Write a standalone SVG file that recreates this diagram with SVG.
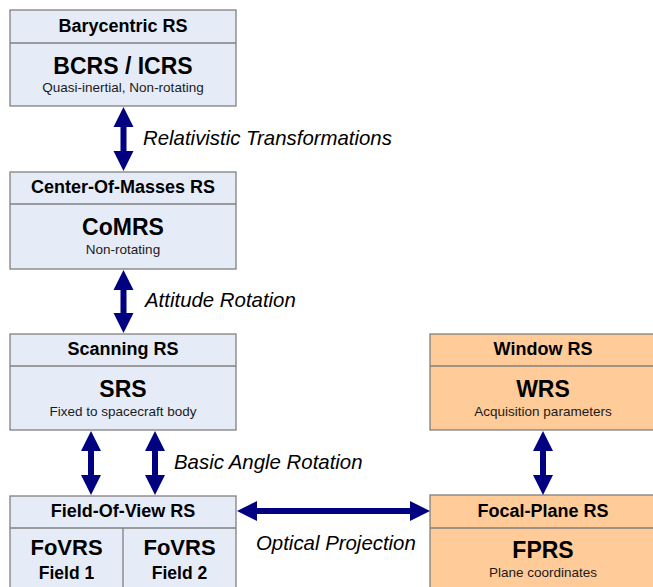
<svg xmlns="http://www.w3.org/2000/svg" width="653" height="587" viewBox="0 0 653 587">
<style>
.blue{fill:#E6ECF7;stroke:#808080;stroke-width:1.3}
.orange{fill:#FFCC99;stroke:#808080;stroke-width:1.3}
.hdr{font-family:"Liberation Sans",Arial,sans-serif;font-weight:bold;font-size:18px;fill:#000;text-anchor:middle}
.ttl{font-family:"Liberation Sans",Arial,sans-serif;font-weight:bold;font-size:23px;fill:#000;text-anchor:middle}
.sub{font-family:"Liberation Sans",Arial,sans-serif;font-size:13.5px;fill:#1a1a1a;text-anchor:middle}
.fld{font-family:"Liberation Sans",Arial,sans-serif;font-weight:bold;font-size:17.5px;fill:#000;text-anchor:middle}
.lbl{font-family:"Liberation Sans",Arial,sans-serif;font-style:italic;font-size:20.4px;fill:#000}
.arrow{fill:#000080;stroke:none}
</style>
<rect width="653" height="587" fill="#fff"/>
<g id="bcrs">
<rect class="blue" x="10" y="10" width="226" height="96"/>
<line x1="10" y1="43" x2="236" y2="43" stroke="#808080" stroke-width="1.3"/>
<text class="hdr" x="123" y="32">Barycentric RS</text>
<text class="ttl" x="123" y="74">BCRS / ICRS</text>
<text class="sub" x="123" y="92">Quasi-inertial, Non-rotating</text>
</g>
<g id="comrs">
<rect class="blue" x="10" y="172" width="226" height="97"/>
<line x1="10" y1="204" x2="236" y2="204" stroke="#808080" stroke-width="1.3"/>
<text class="hdr" x="123" y="193">Center-Of-Masses RS</text>
<text class="ttl" x="123" y="235">CoMRS</text>
<text class="sub" x="123" y="254">Non-rotating</text>
</g>
<g id="srs">
<rect class="blue" x="10" y="334" width="226" height="96"/>
<line x1="10" y1="366" x2="236" y2="366" stroke="#808080" stroke-width="1.3"/>
<text class="hdr" x="123" y="355">Scanning RS</text>
<text class="ttl" x="123" y="397">SRS</text>
<text class="sub" x="123" y="416">Fixed to spacecraft body</text>
</g>
<g id="fovrs">
<rect class="blue" x="10" y="496" width="226" height="100"/>
<line x1="10" y1="528" x2="236" y2="528" stroke="#808080" stroke-width="1.3"/>
<line x1="123" y1="528" x2="123" y2="596" stroke="#808080" stroke-width="1.3"/>
<text class="hdr" x="123" y="517">Field-Of-View RS</text>
<text class="ttl" x="66.5" y="555" style="font-size:22px">FoVRS</text>
<text class="ttl" x="179.5" y="555" style="font-size:22px">FoVRS</text>
<text class="fld" x="66.5" y="579">Field 1</text>
<text class="fld" x="179.5" y="579">Field 2</text>
</g>
<g id="wrs">
<rect class="orange" x="430" y="334" width="230" height="96"/>
<line x1="430" y1="366" x2="660" y2="366" stroke="#808080" stroke-width="1.3"/>
<text class="hdr" x="543" y="355">Window RS</text>
<text class="ttl" x="543" y="397">WRS</text>
<text class="sub" x="543" y="416">Acquisition parameters</text>
</g>
<g id="fprs">
<rect class="orange" x="430" y="495" width="230" height="100"/>
<line x1="430" y1="528" x2="660" y2="528" stroke="#808080" stroke-width="1.3"/>
<text class="hdr" x="543" y="517">Focal-Plane RS</text>
<text class="ttl" x="543" y="558">FPRS</text>
<text class="sub" x="543" y="577">Plane coordinates</text>
</g>
<g id="connectors">
<path class="arrow" d="M123.5,107 L133.5,127 L126.5,127 L126.5,151 L133.5,151 L123.5,171 L113.5,151 L120.5,151 L120.5,127 L113.5,127 Z"/>
<path class="arrow" d="M123.5,270 L133.5,290 L126.5,290 L126.5,313 L133.5,313 L123.5,333 L113.5,313 L120.5,313 L120.5,290 L113.5,290 Z"/>
<path class="arrow" d="M91,431 L101,451 L94,451 L94,475 L101,475 L91,495 L81,475 L88,475 L88,451 L81,451 Z"/>
<path class="arrow" d="M155,431 L165,451 L158,451 L158,475 L165,475 L155,495 L145,475 L152,475 L152,451 L145,451 Z"/>
<path class="arrow" d="M543,431 L553,451 L546,451 L546,475 L553,475 L543,495 L533,475 L540,475 L540,451 L533,451 Z"/>
<path class="arrow" d="M237,511 L257,501 L257,508 L410,508 L410,501 L430,511 L410,521 L410,514 L257,514 L257,521 Z"/>
<text class="lbl" x="143" y="145">Relativistic Transformations</text>
<text class="lbl" x="145" y="307">Attitude Rotation</text>
<text class="lbl" x="174" y="469">Basic Angle Rotation</text>
<text class="lbl" x="256" y="550">Optical Projection</text>
</g>
</svg>
